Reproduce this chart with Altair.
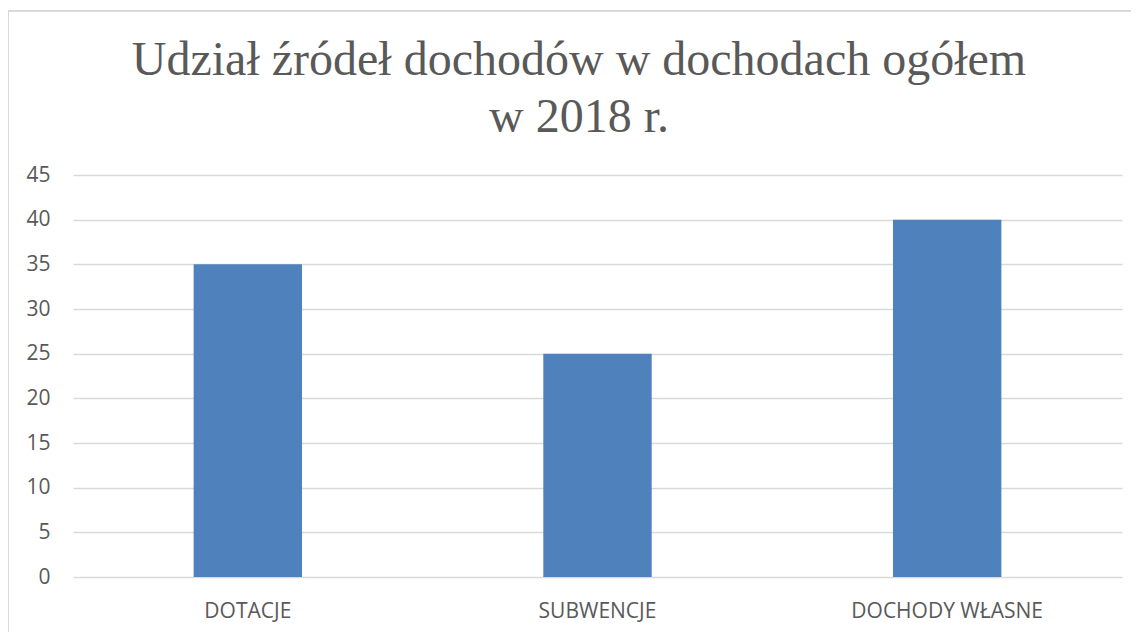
import altair as alt
import pandas as pd

categories = ["DOTACJE", "SUBWENCJE", "DOCHODY WŁASNE"]
values = [35, 25, 40]
title_line1 = "Udział źródeł dochodów w dochodach ogółem"
title_line2 = "w 2018 r."
y_ticks = [0, 5, 10, 15, 20, 25, 30, 35, 40, 45]

df = pd.DataFrame({"kategoria": categories, "wartosc": values})

W, H = 1049, 402
GRID = "#d9d9d9"
TXT = "#595959"
SANS = "Open Sans"
SERIF = "Liberation Serif"

bars = alt.Chart(df).mark_bar(color="#4f81bd").encode(
    x=alt.X("kategoria:N", sort=categories, title=None,
            scale=alt.Scale(paddingInner=0.69, paddingOuter=0.345),
            axis=alt.Axis(labelAngle=0, labelFont=SANS, labelFontSize=21,
                          labelColor=TXT, labelPadding=23, labelLimit=0,
                          ticks=False, domain=False, grid=False)),
    y=alt.Y("wartosc:Q", title=None,
            scale=alt.Scale(domain=[0, 45], nice=False),
            axis=alt.Axis(values=y_ticks, labelFont=SANS, labelFontSize=21,
                          labelColor=TXT, labelPadding=23, ticks=False,
                          domain=False, grid=True, gridColor=GRID,
                          gridWidth=1.3)),
)

frame_top = alt.Chart(df).mark_rule(color=GRID, strokeWidth=1.5, clip=False).encode(
    x=alt.value(-65), x2=alt.value(W + 20), y=alt.value(-164)
)
frame_left = alt.Chart(df).mark_rule(color=GRID, strokeWidth=1.5, clip=False).encode(
    x=alt.value(-65), y=alt.value(-164), y2=alt.value(H + 80)
)

title1 = alt.Chart(pd.DataFrame({"t": [title_line1]})).mark_text(
    font=SERIF, fontSize=48, color=TXT, align="center", baseline="alphabetic", clip=False
).encode(text="t:N", x=alt.value(506), y=alt.value(-100))

title2 = alt.Chart(pd.DataFrame({"t": [title_line2]})).mark_text(
    font=SERIF, fontSize=48, color=TXT, align="center", baseline="alphabetic", clip=False
).encode(text="t:N", x=alt.value(506), y=alt.value(-43))

chart = alt.layer(frame_top, frame_left, bars, title1, title2).properties(
    width=W,
    height=H,
    background="white",
    autosize=alt.AutoSizeParams(type="none"),
    padding={"left": 65, "top": 167, "right": 9, "bottom": 55},
).configure_view(strokeWidth=0, stroke=None)

chart.save("out.html", embed_options={"renderer": "svg", "actions": False})
